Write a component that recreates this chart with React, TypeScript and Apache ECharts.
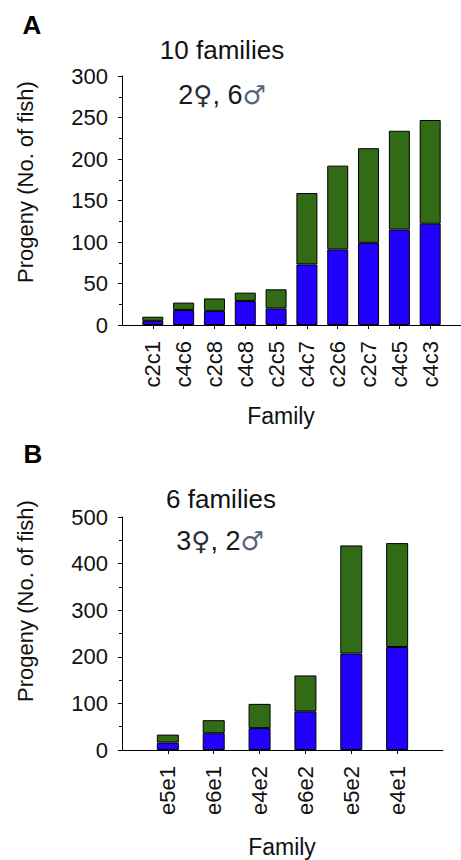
import React, { useEffect, useRef } from "react";
import * as echarts from "echarts";

const familiesA = ["c2c1", "c4c6", "c2c8", "c4c8", "c2c5", "c4c7", "c2c6", "c2c7", "c4c5", "c4c3"];
const totalA = [10, 27, 32, 39, 43, 159, 192, 213, 234, 247];
const blueA = [5, 18, 17, 29, 20, 73, 91, 99, 115, 122];

const familiesB = ["e5e1", "e6e1", "e4e2", "e6e2", "e5e2", "e4e1"];
const totalB = [33, 64, 99, 160, 439, 444];
const blueB = [16, 36, 47, 83, 207, 221];

const yTicksA = [0, 50, 100, 150, 200, 250, 300];
const yTicksB = [0, 100, 200, 300, 400, 500];

const FONT = "'Liberation Sans', Arial, Helvetica, sans-serif";
const BLUE = "#2200ff";
const GREEN = "#316b16";

// padded categories: an empty slot at the axis origin and one at the far end
function padded<T>(arr: T[], fill: T): T[] {
  return [fill, ...arr, fill];
}

function xAxisFor(cats: string[], gridIndex: number) {
  const data = padded(cats, "");
  const last = data.length - 1;
  return {
    type: "category",
    gridIndex,
    data,
    boundaryGap: false,
    axisLine: { show: true, lineStyle: { color: "#000", width: 1 } },
    axisTick: {
      show: true,
      length: 4,
      lineStyle: { color: "#000" },
      interval: (i: number) => i > 0 && i < last,
    },
    axisLabel: {
      rotate: 90,
      margin: 16,
      fontSize: 22,
      fontFamily: FONT,
      color: "#111",
      interval: 0,
    },
    splitLine: { show: false },
  };
}

function yAxisFor(ticks: number[], gridIndex: number) {
  const step = ticks[1] - ticks[0];
  return {
    type: "value",
    gridIndex,
    min: ticks[0],
    max: ticks[ticks.length - 1],
    interval: step,
    axisLine: { show: true, lineStyle: { color: "#000", width: 1 } },
    axisTick: { show: true, length: 4, lineStyle: { color: "#000" } },
    minorTick: { show: true, splitNumber: 2, length: 3, lineStyle: { color: "#000" } },
    axisLabel: { margin: 14, fontSize: 22, fontFamily: FONT, color: "#111" },
    splitLine: { show: false },
  };
}

function barPair(total: number[], blue: number[], idx: number, width: number, stack: string) {
  const lower = padded<number | null>(blue, null);
  const upper = padded<number | null>(total.map((t, i) => t - blue[i]), null);
  const common = {
    type: "bar",
    xAxisIndex: idx,
    yAxisIndex: idx,
    stack,
    barWidth: width,
  };
  return [
    { ...common, data: lower, itemStyle: { color: BLUE, borderColor: "#000", borderWidth: 1 } },
    { ...common, data: upper, itemStyle: { color: GREEN, borderColor: "#000", borderWidth: 1 } },
  ];
}

export default function App() {
  const ref = useRef<HTMLDivElement>(null);
  useEffect(() => {
    if (!ref.current) return;
    const chart = echarts.init(ref.current, null, { renderer: "svg" });
    const txt = (text: string, x: number, y: number, size: number, extra: any = {}) => ({
      type: "text",
      x,
      y,
      style: {
        text,
        fontSize: size,
        fontFamily: FONT,
        fill: "#111",
        align: "center",
        verticalAlign: "middle",
        ...extra,
      },
    });
    const sexText = (f: number, m: number, x: number, y: number) => ({
      type: "text",
      x,
      y,
      style: {
        text: `{n|${f}}{f|♀}{n|, ${m}}{m|♂}`,
        align: "center",
        verticalAlign: "middle",
        rich: {
          n: { fontSize: 27, fontFamily: FONT, fill: "#1a1a1a" },
          f: { fontSize: 26, fontFamily: "'DejaVu Sans', sans-serif", fill: "#2a2f3a" },
          m: { fontSize: 26, fontFamily: "'DejaVu Sans', sans-serif", fill: "#56627a" },
        },
      },
    });
    chart.setOption({
      animation: false,
      backgroundColor: "#fff",
      grid: [
        { left: 122, top: 76, width: 346, height: 249 },
        { left: 122, top: 517, width: 321, height: 233 },
      ],
      xAxis: [xAxisFor(familiesA, 0), xAxisFor(familiesB, 1)],
      yAxis: [yAxisFor(yTicksA, 0), yAxisFor(yTicksB, 1)],
      series: [...barPair(totalA, blueA, 0, 21, "a"), ...barPair(totalB, blueB, 1, 22, "b")],
      graphic: [
        txt("A", 32, 25, 26, { fontWeight: "bold", fill: "#000" }),
        txt("B", 33, 454, 26, { fontWeight: "bold", fill: "#000" }),
        txt("10 families", 222, 50, 26),
        sexText(2, 6, 222, 95),
        txt("6 families", 221, 499, 26),
        sexText(3, 2, 220, 541),
        txt("Family", 281, 416, 23),
        txt("Family", 282, 847, 23),
        { ...txt("Progeny (No. of fish)", 25, 182, 22), rotation: Math.PI / 2 },
        { ...txt("Progeny (No. of fish)", 25, 601, 22), rotation: Math.PI / 2 },
      ],
    });
    return () => chart.dispose();
  }, []);
  return (
    <div
      ref={ref}
      style={{ position: "fixed", left: 0, top: 0, width: 461, height: 860, background: "#fff" }}
    />
  );
}
